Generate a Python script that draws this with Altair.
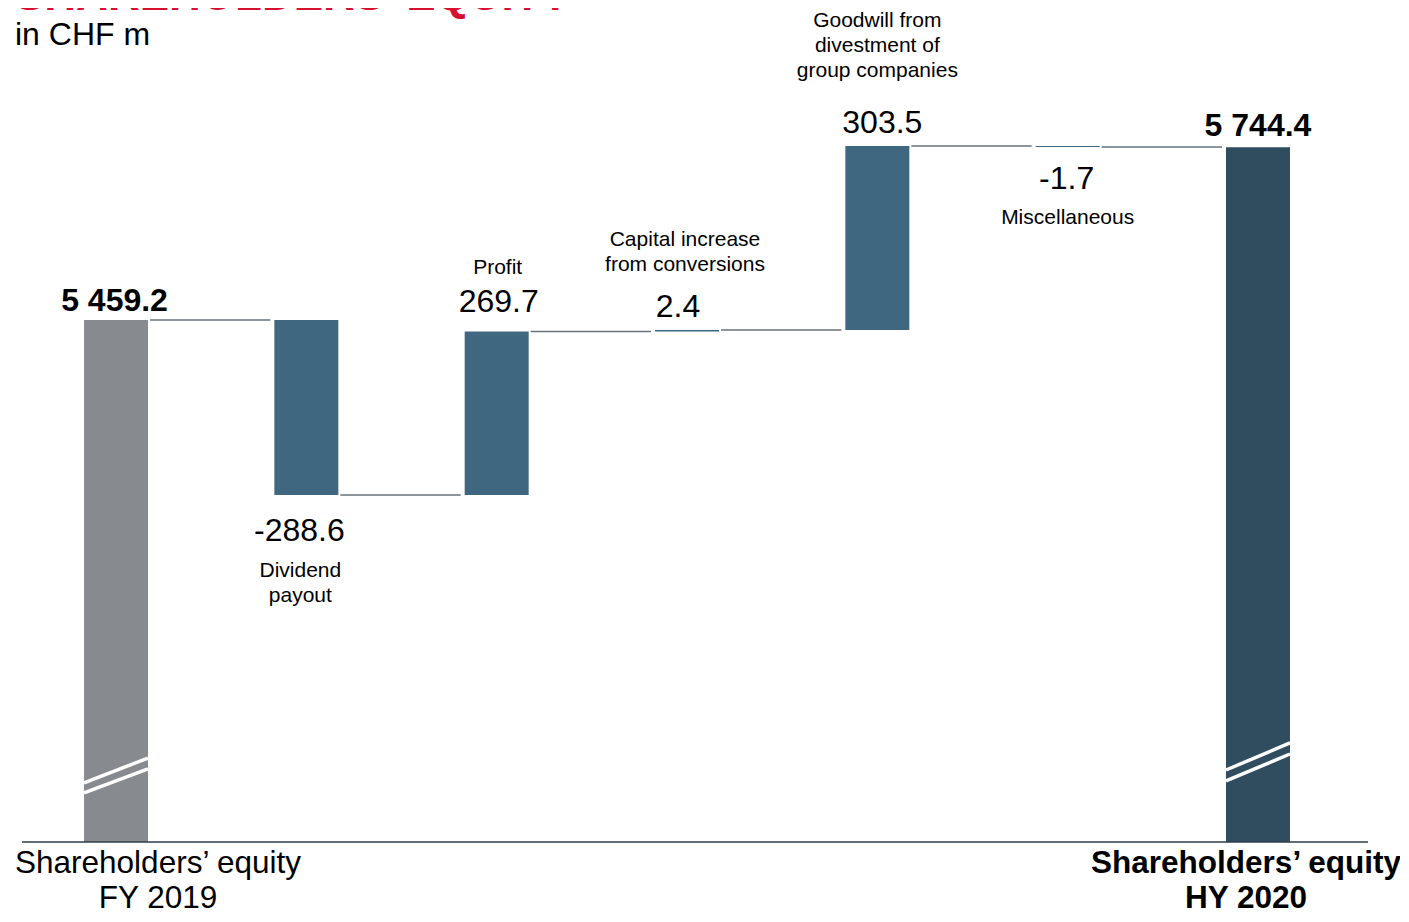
import altair as alt
import pandas as pd

# ---------------- data ----------------
categories = [
    "Shareholders’ equity\nFY 2019",
    "Dividend\npayout",
    "Profit",
    "Capital increase\nfrom conversions",
    "Goodwill from\ndivestment of\ngroup companies",
    "Miscellaneous",
    "Shareholders’ equity\nHY 2020",
]
values = [5459.2, -288.6, 269.7, 2.4, 303.5, -1.7, 5744.4]
kinds = ["start", "delta", "delta", "delta", "delta", "delta", "end"]
value_labels = ["5 459.2", "-288.6", "269.7", "2.4", "303.5", "-1.7", "5 744.4"]

# axis break marks (bar index, level at left edge, level at right edge)
break_idx = [0, 0, 6, 6]
break_left = [4695.2, 4678.7, 4716.6, 4698.5]
break_right = [4736.4, 4718.3, 4761.2, 4743.0]

# ---------------- layout / style ----------------
FONT = "Liberation Sans"
Y_MIN, Y_MAX = 4597.8, 5904.7
X_MIN, X_MAX = -0.494, 6.578
HW = 0.1681          # half bar width in index units
G1, G2 = 0.0105, 0.021
W, H = 1346, 792

xs = alt.Scale(domain=[X_MIN, X_MAX], nice=False, zero=False)
ys = alt.Scale(domain=[Y_MIN, Y_MAX], nice=False, zero=False)

# ---------------- derived tables ----------------
rows = []
cum = 0.0
for i, (c, v, k) in enumerate(zip(categories, values, kinds)):
    if k in ("start", "end"):
        start, end = Y_MIN, v
        cum = v
    else:
        start, end = cum, cum + v
        cum = end
    rows.append({"idx": i, "cat": c, "kind": k, "start": start, "end": end,
                 "label": value_labels[i]})
bars = pd.DataFrame(rows)
bars["x0"] = bars["idx"] - HW
bars["x1"] = bars["idx"] + HW

conn = pd.DataFrame({
    "level": bars["end"].iloc[:-1].values,
    "x0": bars["idx"].iloc[:-1].values + HW + G1,
    "x1": bars["idx"].iloc[:-1].values + 1 - HW - G2,
})

brk = pd.DataFrame({"idx": break_idx, "ya": break_left, "yb": break_right})
brk["x0"] = brk["idx"] - HW
brk["x1"] = brk["idx"] + HW

color = alt.Color("kind:N", legend=None,
                  scale=alt.Scale(domain=["start", "delta", "end"],
                                  range=["#878b8f", "#3f6780", "#304d60"]))

bar_layer = alt.Chart(bars).mark_rect().encode(
    x=alt.X("x0:Q", scale=xs, axis=None),
    x2="x1:Q",
    y=alt.Y("start:Q", scale=ys, axis=None),
    y2="end:Q",
    color=color,
)

conn_layer = alt.Chart(conn).mark_rule(color="#67737c", strokeWidth=1.5).encode(
    x=alt.X("x0:Q", scale=xs, axis=None),
    x2="x1:Q",
    y=alt.Y("level:Q", scale=ys, axis=None),
)

brk_layer = alt.Chart(brk).mark_rule(color="white", strokeWidth=3.5, strokeCap="butt").encode(
    x=alt.X("x0:Q", scale=xs, axis=None),
    x2="x1:Q",
    y=alt.Y("ya:Q", scale=ys, axis=None),
    y2="yb:Q",
)

base_df = pd.DataFrame({"x0": [X_MIN], "x1": [X_MAX], "y": [Y_MIN]})
base_layer = alt.Chart(base_df).mark_rule(color="#2c3e4c", strokeWidth=1.5).encode(
    x=alt.X("x0:Q", scale=xs, axis=None),
    x2="x1:Q",
    y=alt.Y("y:Q", scale=ys, axis=None),
)


def label(i, text, anchor, dx, dy, size, bold=False, lh=None):
    d = pd.DataFrame({"idx": [i], "y": [anchor], "t": [text]})
    kw = dict(dx=dx, dy=dy, fontSize=size, font=FONT, color="black",
              fontWeight="bold" if bold else "normal", align="center",
              baseline="alphabetic", lineBreak="\n")
    if lh is not None:
        kw["lineHeight"] = lh
    return alt.Chart(d).mark_text(**kw).encode(
        x=alt.X("idx:Q", scale=xs, axis=None),
        y=alt.Y("y:Q", scale=ys, axis=None),
        text="t:N",
    )


ends = bars["end"].tolist()
value_dx = [-1.5, -7, 2, -9, 5, -1, 0]
value_dy = [-9, 46, -19, -13, -13, 42, -11]
layers = []
for i in range(7):
    layers.append(label(i, value_labels[i], ends[i], value_dx[i], value_dy[i], 32,
                        bold=(kinds[i] != "delta")))

desc_dx = {1: -6, 2: 1, 3: -2, 4: 0, 5: 0}
desc_dy = {1: 82, 2: -57, 3: -84, 4: -119, 5: 77}
for i in range(1, 6):
    layers.append(label(i, categories[i], ends[i], desc_dx[i], desc_dy[i], 21, lh=25.2))

layers.append(label(0, categories[0], Y_MIN, 42, 31, 31.5, bold=False, lh=35))
layers.append(label(6, categories[6], Y_MIN, -12, 31, 31.5, bold=True, lh=35))

one = pd.DataFrame({"a": [0]})
title_layer = alt.Chart(one).mark_text(
    text="SHAREHOLDERS’ EQUITY", font=FONT, fontSize=44, fontWeight="bold",
    color="#d6102f", align="left", baseline="alphabetic",
).encode(x=alt.value(-7), y=alt.value(-40))
sub_layer = alt.Chart(one).mark_text(
    text="in CHF m", font=FONT, fontSize=32, color="black",
    align="left", baseline="alphabetic",
).encode(x=alt.value(-7), y=alt.value(-5))

chart = alt.layer(
    bar_layer, conn_layer, brk_layer, base_layer, *layers, title_layer, sub_layer
).properties(
    width=W, height=H,
    padding={"left": 14, "top": 42, "right": 32, "bottom": 68},
    autosize=alt.AutoSizeParams(type="none"),
).configure_view(stroke=None)

chart.save("out.html", embed_options={"renderer": "svg", "actions": False})
